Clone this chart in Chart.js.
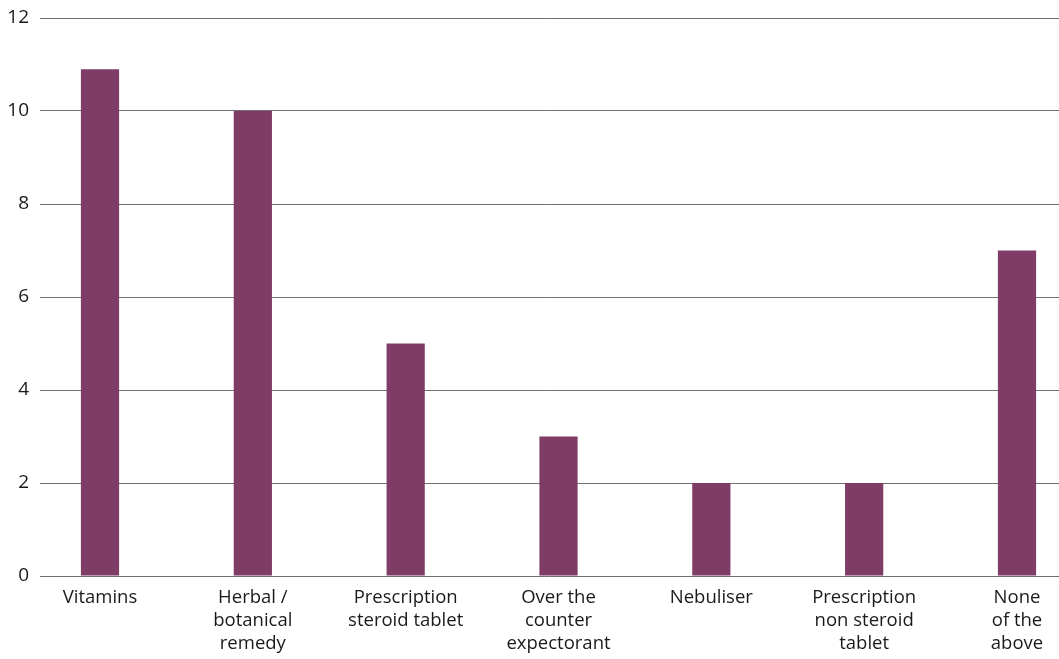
<!DOCTYPE html>
<html>
<head>
<meta charset="utf-8">
<script src="https://cdn.jsdelivr.net/npm/chart.js@4"></script>
<style>
  html, body { margin: 0; padding: 0; background: #ffffff; }
  #wrap { width: 1059px; height: 659px; position: relative; }
</style>
</head>
<body>
<div id="wrap"><canvas id="chart" width="1059" height="659"></canvas></div>
<script>
// Treatments used (count of respondents)
const categories = [
  ["Vitamins"],
  ["Herbal /", "botanical", "remedy"],
  ["Prescription", "steroid tablet"],
  ["Over the", "counter", "expectorant"],
  ["Nebuliser"],
  ["Prescription", "non steroid", "tablet"],
  ["None", "of the", "above"]
];
const counts = [10.9, 10, 5, 3, 2, 2, 7];
const yTicks = [0, 2, 4, 6, 8, 10, 12];

const points = counts.map((v, i) => ({ x: i, y: v }));
const family = "'Open Sans', 'Noto Sans', sans-serif";

new Chart(document.getElementById('chart'), {
  type: 'bar',
  data: {
    datasets: [{
      data: points,
      backgroundColor: '#7f3c66',
      borderWidth: 0,
      barPercentage: 0.25,
      categoryPercentage: 1
    }]
  },
  options: {
    responsive: false,
    animation: false,
    layout: { padding: { top: 18, right: 0, bottom: 0, left: 0 } },
    plugins: { legend: { display: false }, tooltip: { enabled: false } },
    scales: {
      x: {
        type: 'linear',
        offset: false,
        min: -0.3926,
        max: 6.2748,
        grid: { display: false, drawTicks: false },
        border: { display: false },
        afterBuildTicks: (scale) => { scale.ticks = categories.map((c, i) => ({ value: i })); },
        afterFit: (scale) => { scale.height = 83; },
        ticks: {
          autoSkip: false,
          maxRotation: 0,
          padding: 10,
          color: '#1a1a1a',
          font: { family: family, size: 18.5, lineHeight: 1.24 },
          callback: (value) => categories[value]
        }
      },
      y: {
        min: 0,
        max: 12,
        afterBuildTicks: (scale) => { scale.ticks = yTicks.map(v => ({ value: v })); },
        afterFit: (scale) => { scale.width = 40; },
        grid: { color: '#707070', lineWidth: 1, drawTicks: false },
        border: { display: false },
        ticks: {
          padding: 11,
          color: '#1a1a1a',
          font: { family: family, size: 19, lineHeight: 0.5 }
        }
      }
    }
  }
});
</script>
</body>
</html>
